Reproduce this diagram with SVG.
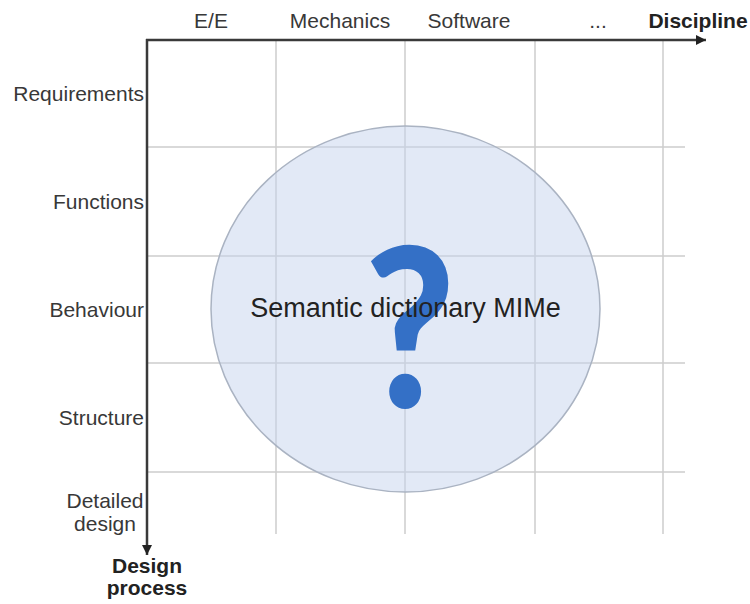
<svg xmlns="http://www.w3.org/2000/svg" width="750" height="604" viewBox="0 0 750 604">
<defs>
<style>
.lbl{font-family:"Liberation Sans",Arial,sans-serif;font-size:21px;fill:#383838}
.bold{font-family:"Liberation Sans",Arial,sans-serif;font-size:21px;font-weight:bold;fill:#222}
.grid{stroke:#cdcdcd;stroke-width:1.5;fill:none}
.axis{stroke:#3a3a3a;stroke-width:2.5;fill:none}
</style>
<marker id="arr" viewBox="0 0 10 10" refX="10" refY="5" markerWidth="6" markerHeight="4" markerUnits="strokeWidth" orient="auto">
<path d="M0,0 L10,5 L0,10 z" fill="#222"/>
</marker>
</defs>
<rect width="750" height="604" fill="#fff"/>
<g id="grid" class="grid">
<line x1="276" y1="40" x2="276" y2="534"/>
<line x1="405" y1="40" x2="405" y2="534"/>
<line x1="535" y1="40" x2="535" y2="534"/>
<line x1="663" y1="40" x2="663" y2="534"/>
<line x1="147" y1="147" x2="685" y2="147"/>
<line x1="147" y1="256" x2="685" y2="256"/>
<line x1="147" y1="363" x2="685" y2="363"/>
<line x1="147" y1="472" x2="685" y2="472"/>
</g>
<g id="mime">
<ellipse cx="405.5" cy="309" rx="194.5" ry="183" fill="#c5d4ee" fill-opacity="0.5" stroke="#aab3c2" stroke-width="1.5"/>
<text x="0" y="0" transform="translate(410,407) scale(0.88,1)" text-anchor="middle" font-family="Lato,'Liberation Sans',sans-serif" font-weight="900" font-size="222" fill="#3470c6">?</text>
<text x="405.5" y="317" text-anchor="middle" font-family="'Liberation Sans',Arial,sans-serif" font-size="27" fill="#222">Semantic dictionary MIMe</text>
</g>
<g id="connectors">
<line class="axis" x1="146" y1="40" x2="706" y2="40" marker-end="url(#arr)"/>
<line class="axis" x1="147" y1="39" x2="147" y2="555" marker-end="url(#arr)"/>
</g>
<g id="disciplines">
<text class="lbl" x="211" y="28" text-anchor="middle">E/E</text>
<text class="lbl" x="340" y="28" text-anchor="middle">Mechanics</text>
<text class="lbl" x="469" y="28" text-anchor="middle">Software</text>
<text class="lbl" x="598" y="28" text-anchor="middle">...</text>
<text class="bold" x="698" y="28" text-anchor="middle">Discipline</text>
</g>
<g id="phases">
<text class="lbl" x="144" y="101" text-anchor="end">Requirements</text>
<text class="lbl" x="144" y="209" text-anchor="end">Functions</text>
<text class="lbl" x="144" y="317" text-anchor="end">Behaviour</text>
<text class="lbl" x="144" y="425" text-anchor="end">Structure</text>
<text class="lbl" x="105" y="508" text-anchor="middle">Detailed</text>
<text class="lbl" x="105" y="531" text-anchor="middle">design</text>
<text class="bold" x="147" y="573" text-anchor="middle">Design</text>
<text class="bold" x="147" y="595" text-anchor="middle">process</text>
</g>
</svg>
